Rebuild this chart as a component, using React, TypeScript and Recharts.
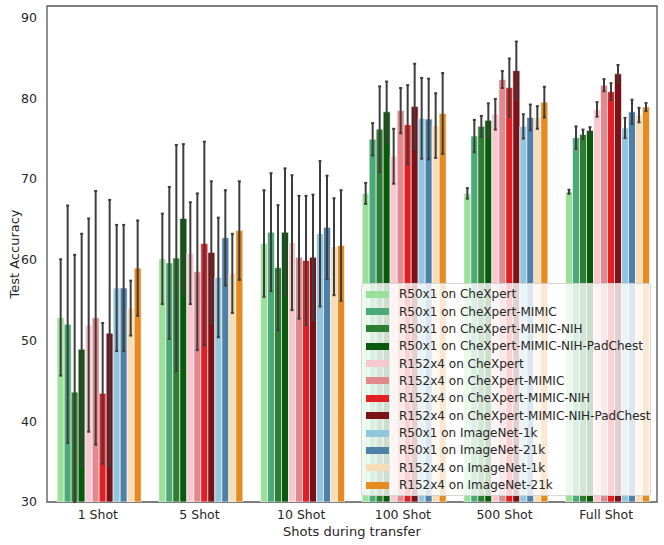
import React from 'react';
import { BarChart, Bar, XAxis, YAxis, ErrorBar, Legend, Label, ReferenceArea } from 'recharts';

const categories = ['1 Shot', '5 Shot', '10 Shot', '100 Shot', '500 Shot', 'Full Shot'];

const seriesNames = [
  'R50x1 on CheXpert',
  'R50x1 on CheXpert-MIMIC',
  'R50x1 on CheXpert-MIMIC-NIH',
  'R50x1 on CheXpert-MIMIC-NIH-PadChest',
  'R152x4 on CheXpert',
  'R152x4 on CheXpert-MIMIC',
  'R152x4 on CheXpert-MIMIC-NIH',
  'R152x4 on CheXpert-MIMIC-NIH-PadChest',
  'R50x1 on ImageNet-1k',
  'R50x1 on ImageNet-21k',
  'R152x4 on ImageNet-1k',
  'R152x4 on ImageNet-21k',
];

const seriesColors = [
  '#9bdf9a', '#4caa78', '#2e7d32', '#0a5a0e',
  '#f8c8d0', '#e08a8e', '#e31f26', '#7a1218',
  '#92c6df', '#4f80a8', '#f7dcb8', '#e68a22',
];

// mean accuracies per category
const r50CheXpert = [52.85, 60.1, 62.0, 68.2, 68.2, 68.4];
const r50CheXpertMimic = [52.0, 59.6, 63.4, 74.9, 75.3, 75.1];
const r50CheXpertMimicNih = [43.6, 60.2, 59.0, 76.15, 76.5, 75.5];
const r50CheXpertMimicNihPad = [48.9, 65.1, 63.4, 78.3, 77.25, 76.0];
const r152CheXpert = [51.9, 60.8, 62.1, 72.8, 78.0, 78.6];
const r152CheXpertMimic = [52.8, 58.5, 60.3, 78.45, 82.3, 81.6];
const r152CheXpertMimicNih = [43.45, 62.0, 59.9, 76.7, 81.3, 80.8];
const r152CheXpertMimicNihPad = [50.9, 60.9, 60.3, 78.95, 83.4, 83.0];
const r50ImageNet1k = [56.5, 57.8, 63.2, 77.5, 76.5, 76.3];
const r50ImageNet21k = [56.5, 62.7, 64.0, 77.4, 77.6, 78.3];
const r152ImageNet1k = [54.0, 58.3, 61.6, 76.6, 77.6, 77.9];
const r152ImageNet21k = [58.95, 63.6, 61.75, 78.1, 79.5, 78.9];

// error (std) per category
const r50CheXpertErr = [7.2, 5.6, 6.6, 1.3, 0.65, 0.25];
const r50CheXpertMimicErr = [14.7, 9.4, 7.3, 2.0, 2.0, 1.4];
const r50CheXpertMimicNihErr = [17.0, 14.0, 7.75, 5.3, 1.3, 0.6];
const r50CheXpertMimicNihPadErr = [14.3, 9.2, 7.9, 3.75, 2.1, 0.4];
const r152CheXpertErr = [13.2, 6.3, 8.35, 3.4, 1.9, 0.9];
const r152CheXpertMimicErr = [15.7, 9.7, 7.6, 2.8, 1.05, 0.75];
const r152CheXpertMimicNihErr = [8.7, 12.6, 8.0, 4.9, 3.6, 1.05];
const r152CheXpertMimicNihPadErr = [16.5, 8.8, 7.75, 5.3, 3.6, 1.1];
const r50ImageNet1kErr = [7.8, 7.4, 9.0, 5.0, 1.5, 1.25];
const r50ImageNet21kErr = [7.8, 5.9, 6.4, 5.0, 1.6, 1.5];
const r152ImageNet1kErr = [3.4, 4.9, 6.0, 4.0, 1.4, 0.9];
const r152ImageNet21kErr = [5.9, 6.1, 6.85, 5.0, 1.9, 0.5];

const yTicks = [30, 40, 50, 60, 70, 80, 90];
const Y_MIN = 30;
const Y_MAX = 91.4;

const seriesValues = [
  r50CheXpert, r50CheXpertMimic, r50CheXpertMimicNih, r50CheXpertMimicNihPad,
  r152CheXpert, r152CheXpertMimic, r152CheXpertMimicNih, r152CheXpertMimicNihPad,
  r50ImageNet1k, r50ImageNet21k, r152ImageNet1k, r152ImageNet21k,
];
const seriesErrors = [
  r50CheXpertErr, r50CheXpertMimicErr, r50CheXpertMimicNihErr, r50CheXpertMimicNihPadErr,
  r152CheXpertErr, r152CheXpertMimicErr, r152CheXpertMimicNihErr, r152CheXpertMimicNihPadErr,
  r50ImageNet1kErr, r50ImageNet21kErr, r152ImageNet1kErr, r152ImageNet21kErr,
];

const data = categories.map((name, i) => {
  const row: Record<string, any> = { name };
  seriesValues.forEach((vals, s) => {
    const v = vals[i];
    const e = seriesErrors[s][i];
    row['v' + s] = v;
    // lower whisker is cut at the axis floor (the plot clips it)
    row['e' + s] = [Math.min(e, v - Y_MIN), e];
  });
  return row;
});

const FONT = 'DejaVu Sans, sans-serif';
const TEXT = '#262626';
const FRAME = '#555555';

const LegendBox = () => (
  <div
    style={{
      width: 288,
      height: 211,
      boxSizing: 'content-box',
      background: 'rgba(255,255,255,0.8)',
      border: '1px solid rgba(204,204,204,0.8)',
      borderRadius: 3,
      fontFamily: FONT,
      fontSize: 12,
      color: TEXT,
    }}
  >
    <div style={{ height: 1.5 }} />
    {seriesNames.map((n, i) => (
      <div key={n} style={{ height: 17.36, display: 'flex', alignItems: 'center', whiteSpace: 'nowrap' }}>
        <span
          style={{
            display: 'inline-block',
            flexShrink: 0,
            marginLeft: 4,
            width: 23,
            height: 7,
            background: seriesColors[i],
            marginRight: 10,
          }}
        />
        <span>{n}</span>
      </div>
    ))}
  </div>
);

export default function App() {
  return (
    <div style={{ position: 'absolute', left: 0, top: 0, width: 664, height: 545, background: '#fff' }}>
      <BarChart
        width={664}
        height={545}
        data={data}
        margin={{ top: 6, right: 7, bottom: 0, left: 0 }}
        barCategoryGap="10%"
        barGap={0}
      >
        <XAxis
          dataKey="name"
          height={43}
          interval={0}
          tickLine={false}
          tickSize={0}
          tickMargin={8}
          axisLine={false}
          tick={{ fill: TEXT, fontSize: 12.5, fontFamily: FONT }}
        >
          <Label
            value="Shots during transfer"
            position="insideBottom"
            offset={9}
            style={{ fill: TEXT, fontSize: 13, fontFamily: FONT }}
          />
        </XAxis>
        <YAxis
          width={47}
          domain={[Y_MIN, Y_MAX]}
          ticks={yTicks}
          allowDataOverflow
          tickLine={false}
          tickSize={0}
          tickMargin={10}
          axisLine={false}
          tick={{ fill: TEXT, fontSize: 12.5, fontFamily: FONT }}
        >
          <Label
            value="Test Accuracy"
            angle={-90}
            position="insideLeft"
            offset={14}
            style={{ fill: TEXT, fontSize: 13, fontFamily: FONT, textAnchor: 'middle' }}
          />
        </YAxis>
        {seriesNames.map((n, s) => (
          <Bar
            key={n}
            dataKey={'v' + s}
            name={n}
            fill={seriesColors[s]}
            stroke="#ffffff"
            strokeWidth={0.6}
            isAnimationActive={false}
          >
            <ErrorBar dataKey={'e' + s} direction="y" width={1.5} strokeWidth={2} stroke="#3d3d3d" />
          </Bar>
        ))}
        <ReferenceArea
          y1={Y_MIN}
          y2={Y_MAX}
          fill="none"
          fillOpacity={0}
          stroke={FRAME}
          strokeWidth={1.3}
          ifOverflow="visible"
        />
        <Legend
          layout="vertical"
          align="center"
          verticalAlign="middle"
          content={() => <LegendBox />}
          wrapperStyle={{ left: 361, top: 283, width: 290, height: 213 }}
        />
      </BarChart>
    </div>
  );
}
